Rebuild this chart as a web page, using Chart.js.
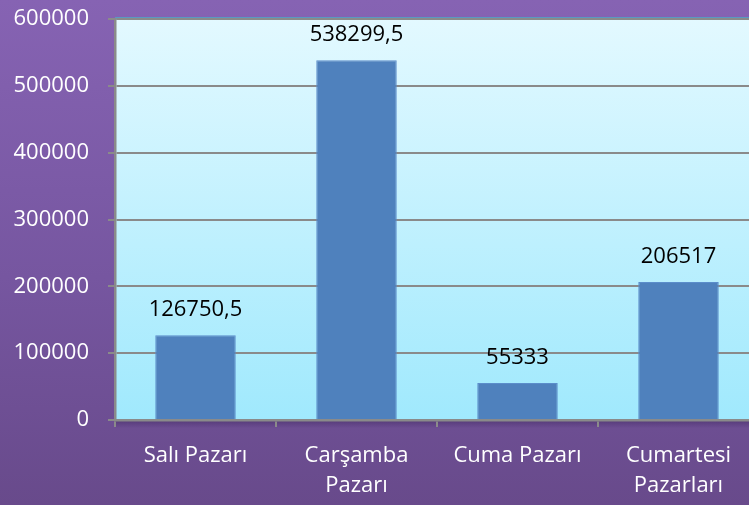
<!DOCTYPE html>
<html>
<head>
<meta charset="utf-8">
<script src="https://cdn.jsdelivr.net/npm/chart.js@4.4.1/dist/chart.umd.min.js"></script>
<style>
    html, body {
        margin: 0;
        padding: 0;
        width: 749px;
        height: 505px;
        overflow: hidden;
        background: linear-gradient(to bottom, #8663b3 0%, #7656a0 55%, #684a8b 100%);
    }
    #wrap {
        position: relative;
        width: 760px;
        height: 505px;
    }
</style>
</head>
<body>
<div id="wrap">
    <canvas id="pazarChart" width="760" height="505"></canvas>
</div>
<script>
    // Pazar yerlerine göre değerler
    const pazarlar = [
        'Salı Pazarı',
        ['Carşamba', 'Pazarı'],
        'Cuma Pazarı',
        ['Cumartesi', 'Pazarları']
    ];
    const degerler = [126750.5, 538299.5, 55333, 206517];
    const yEksenMin = 0;
    const yEksenMax = 600000;
    const yEksenAdim = 100000;

    const yaziTipi = "'Open Sans', 'Noto Sans', sans-serif";
    const eksenRengi = '#8a8a8a';

    // Çizim alanının arka planı (açık mavi geçiş) ve üst kenar çizgisi
    const alanArkaPlan = {
        id: 'alanArkaPlan',
        beforeDraw(chart) {
            const { ctx, chartArea: a } = chart;
            const grad = ctx.createLinearGradient(0, a.top, 0, a.bottom);
            grad.addColorStop(0, '#e3f9ff');
            grad.addColorStop(1, '#a0e9fd');
            ctx.save();
            ctx.fillStyle = grad;
            ctx.fillRect(a.left, a.top, a.right - a.left, a.bottom - a.top);
            ctx.strokeStyle = '#4bacc6';
            ctx.lineWidth = 2.5;
            ctx.beginPath();
            ctx.moveTo(a.left, a.top - 0.5);
            ctx.lineTo(a.right, a.top - 0.5);
            ctx.stroke();
            // x ekseninin altındaki hafif gölge
            const golge = ctx.createLinearGradient(0, a.bottom, 0, a.bottom + 8);
            golge.addColorStop(0, 'rgba(40, 20, 70, 0.35)');
            golge.addColorStop(1, 'rgba(40, 20, 70, 0)');
            ctx.fillStyle = golge;
            ctx.fillRect(a.left, a.bottom, a.right - a.left, 8);
            ctx.restore();
        }
    };

    // Çubukların üstüne değer etiketleri
    const degerEtiketleri = {
        id: 'degerEtiketleri',
        afterDatasetsDraw(chart) {
            const { ctx } = chart;
            const meta = chart.getDatasetMeta(0);
            ctx.save();
            ctx.font = '22px ' + yaziTipi;
            ctx.fillStyle = '#000000';
            ctx.textAlign = 'center';
            ctx.textBaseline = 'alphabetic';
            meta.data.forEach(function(bar, i) {
                const metin = String(degerler[i]).replace('.', ',');
                ctx.fillText(metin, bar.x, bar.y - 19);
            });
            ctx.restore();
        }
    };

    const ctx = document.getElementById('pazarChart').getContext('2d');
    new Chart(ctx, {
        type: 'bar',
        data: {
            labels: pazarlar,
            datasets: [{
                data: degerler,
                backgroundColor: '#4f81bd',
                borderColor: '#5b8dcb',
                borderWidth: 1,
                categoryPercentage: 1,
                barPercentage: 0.5
            }]
        },
        options: {
            responsive: false,
            animation: false,
            layout: {
                padding: { top: 19, right: 1, bottom: 0, left: 0 }
            },
            plugins: {
                legend: { display: false },
                tooltip: { enabled: false }
            },
            scales: {
                x: {
                    grid: {
                        display: true,
                        drawOnChartArea: false,
                        drawTicks: true,
                        tickLength: 7,
                        color: eksenRengi,
                        lineWidth: 2
                    },
                    border: { color: eksenRengi, width: 2.5 },
                    ticks: {
                        color: '#ffffff',
                        padding: 13,
                        maxRotation: 0,
                        autoSkip: false,
                        font: { family: yaziTipi, size: 22, lineHeight: 1.4 }
                    },
                    afterFit(scale) { scale.height = 85; }
                },
                y: {
                    min: yEksenMin,
                    max: yEksenMax,
                    grid: {
                        color: eksenRengi,
                        lineWidth: 2,
                        drawTicks: true,
                        tickLength: 7
                    },
                    border: { color: eksenRengi, width: 2.5 },
                    ticks: {
                        stepSize: yEksenAdim,
                        color: '#ffffff',
                        padding: 19,
                        font: { family: yaziTipi, size: 22 },
                        callback: function(v) { return String(v); }
                    },
                    afterFit(scale) {
                        scale.width = 115;
                        // etiket boşluğu üst/alt kenarı itmesin
                        scale.paddingTop = 0;
                        scale.paddingBottom = 0;
                    }
                }
            }
        },
        plugins: [alanArkaPlan, degerEtiketleri]
    });
</script>
</body>
</html>
